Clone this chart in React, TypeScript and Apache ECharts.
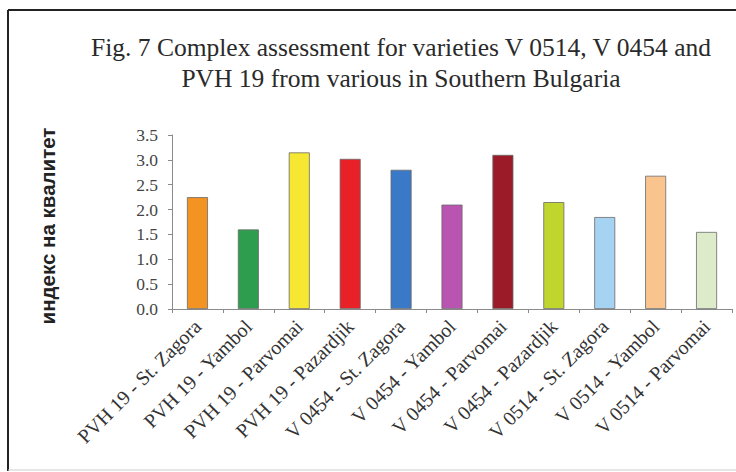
import React, { useEffect, useRef } from "react";
import * as echarts from "echarts";

const categories = [
  "PVH 19 - St. Zagora",
  "PVH 19 - Yambol",
  "PVH 19 - Parvomai",
  "PVH 19 - Pazardjik",
  "V 0454 - St. Zagora",
  "V 0454 - Yambol",
  "V 0454 - Parvomai",
  "V 0454 - Pazardjik",
  "V 0514 - St. Zagora",
  "V 0514 - Yambol",
  "V 0514 - Parvomai",
];
const values = [2.25, 1.6, 3.15, 3.02, 2.8, 2.1, 3.1, 2.15, 1.85, 2.68, 1.55];
const barColors = [
  "#F39322", "#2E9E4E", "#F6E832", "#E82027", "#3A78C8", "#B954B0",
  "#9B1C28", "#C1D62D", "#A7D3F2", "#F9C48E", "#DDEBCB",
];
const yTicks = [0, 0.5, 1.0, 1.5, 2.0, 2.5, 3.0, 3.5];
const titleLines = [
  "Fig. 7 Complex assessment for varieties V 0514, V 0454 and",
  "PVH 19 from various in Southern Bulgaria",
];
const yAxisName = "индекс на квалитет";

export default function App() {
  const ref = useRef<HTMLDivElement>(null);
  useEffect(() => {
    if (!ref.current) return;
    const chart = echarts.init(ref.current, undefined, { renderer: "svg" });
    chart.setOption({
      animation: false,
      backgroundColor: "#ffffff",
      title: {
        text: titleLines.join("\n"),
        left: 396,
        top: 27,
        textAlign: "center",
        textStyle: {
          fontFamily: "Liberation Serif",
          fontSize: 25.5,
          lineHeight: 31,
          fontWeight: "normal",
          color: "#2a2a2a",
        },
      },
      grid: { left: 172, right: 4, top: 135, bottom: 163, containLabel: false },
      xAxis: {
        type: "category",
        data: categories,
        axisLine: { lineStyle: { color: "#8a8a8a", width: 1 } },
        axisTick: { show: true, length: 4, lineStyle: { color: "#8a8a8a" } },
        axisLabel: {
          rotate: 45,
          interval: 0,
          margin: 14,
          fontFamily: "Liberation Serif",
          fontSize: 20,
          color: "#333333",
        },
      },
      yAxis: {
        type: "value",
        min: 0,
        max: 3.5,
        interval: 0.5,
        splitLine: { show: false },
        axisLine: { show: true, lineStyle: { color: "#8a8a8a", width: 1 } },
        axisTick: { show: true, length: 4, lineStyle: { color: "#8a8a8a" } },
        axisLabel: {
          margin: 14,
          fontFamily: "Liberation Serif",
          fontSize: 17.5,
          color: "#444444",
          formatter: (v: number) => (yTicks.includes(v) ? v.toFixed(1) : ""),
        },
      },
      series: [
        {
          type: "bar",
          barWidth: 21,
          data: values.map((v, i) => ({
            value: v,
            itemStyle: { color: barColors[i], borderColor: "#6a6a6a", borderWidth: 0.8 },
          })),
        },
      ],
      graphic: [
        {
          type: "text",
          x: 47,
          y: 226,
          rotation: Math.PI / 2,
          style: {
            text: yAxisName,
            fontFamily: "Liberation Sans",
            fontWeight: "bold",
            fontSize: 20.5,
            fill: "#222222",
            textAlign: "center",
            textVerticalAlign: "middle",
          },
        },
        { type: "line", shape: { x1: 8, y1: 10, x2: 736, y2: 10 }, style: { stroke: "#222222", lineWidth: 2 } },
        { type: "line", shape: { x1: 8, y1: 10, x2: 8, y2: 471 }, style: { stroke: "#222222", lineWidth: 2 } },
        { type: "line", shape: { x1: 8, y1: 470, x2: 736, y2: 470 }, style: { stroke: "#cccccc", lineWidth: 1 } },
      ],
    });
    return () => chart.dispose();
  }, []);
  return <div ref={ref} style={{ width: 736, height: 472, position: "absolute", left: 0, top: 0 }} />;
}
